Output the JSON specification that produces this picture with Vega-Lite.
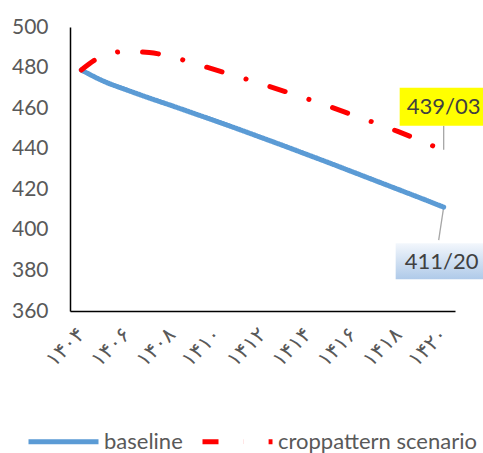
{
  "$schema": "https://vega.github.io/schema/vega-lite/v6.json",
  "autosize": {"type": "none"},
  "width": 385,
  "height": 284,
  "padding": {"left": 70, "top": 27, "right": 28, "bottom": 142},
  "background": "white",
  "config": {
    "view": {"stroke": null},
    "font": "Lato",
    "axis": {"grid": false, "ticks": false, "domainColor": "#000000", "domainWidth": 1.5, "labelColor": "#595959", "title": null}
  },
  "datasets": {
    "series": [
      {"year": "۱۴۰۴", "series": "baseline", "value": 478.8},
      {"year": "۱۴۰۵", "series": "baseline", "value": 473.2},
      {"year": "۱۴۰۶", "series": "baseline", "value": 469.0},
      {"year": "۱۴۰۷", "series": "baseline", "value": 465.0},
      {"year": "۱۴۰۸", "series": "baseline", "value": 461.2},
      {"year": "۱۴۰۹", "series": "baseline", "value": 457.3},
      {"year": "۱۴۱۰", "series": "baseline", "value": 453.4},
      {"year": "۱۴۱۱", "series": "baseline", "value": 449.4},
      {"year": "۱۴۱۲", "series": "baseline", "value": 445.3},
      {"year": "۱۴۱۳", "series": "baseline", "value": 441.2},
      {"year": "۱۴۱۴", "series": "baseline", "value": 437.0},
      {"year": "۱۴۱۵", "series": "baseline", "value": 432.8},
      {"year": "۱۴۱۶", "series": "baseline", "value": 428.5},
      {"year": "۱۴۱۷", "series": "baseline", "value": 424.2},
      {"year": "۱۴۱۸", "series": "baseline", "value": 419.9},
      {"year": "۱۴۱۹", "series": "baseline", "value": 415.6},
      {"year": "۱۴۲۰", "series": "baseline", "value": 411.2},
      {"year": "۱۴۰۴", "series": "croppattern scenario", "value": 478.8},
      {"year": "۱۴۰۵", "series": "croppattern scenario", "value": 486.0},
      {"year": "۱۴۰۶", "series": "croppattern scenario", "value": 488.0},
      {"year": "۱۴۰۷", "series": "croppattern scenario", "value": 487.4},
      {"year": "۱۴۰۸", "series": "croppattern scenario", "value": 485.3},
      {"year": "۱۴۰۹", "series": "croppattern scenario", "value": 482.0},
      {"year": "۱۴۱۰", "series": "croppattern scenario", "value": 478.6},
      {"year": "۱۴۱۱", "series": "croppattern scenario", "value": 475.3},
      {"year": "۱۴۱۲", "series": "croppattern scenario", "value": 471.8},
      {"year": "۱۴۱۳", "series": "croppattern scenario", "value": 468.2},
      {"year": "۱۴۱۴", "series": "croppattern scenario", "value": 464.5},
      {"year": "۱۴۱۵", "series": "croppattern scenario", "value": 460.6},
      {"year": "۱۴۱۶", "series": "croppattern scenario", "value": 456.6},
      {"year": "۱۴۱۷", "series": "croppattern scenario", "value": 452.6},
      {"year": "۱۴۱۸", "series": "croppattern scenario", "value": 448.4},
      {"year": "۱۴۱۹", "series": "croppattern scenario", "value": 443.9},
      {"year": "۱۴۲۰", "series": "croppattern scenario", "value": 439.03}
    ],
    "labels": [
      {"year": "۱۴۲۰", "series": "baseline", "value": 411.2, "text": "411/20"},
      {"year": "۱۴۲۰", "series": "croppattern scenario", "value": 439.03, "text": "439/03"}
    ]
  },
  "encoding": {
    "x": {
      "field": "year", "type": "ordinal",
      "scale": {"type": "point", "padding": 0.5, "domain": ["۱۴۰۴","۱۴۰۵","۱۴۰۶","۱۴۰۷","۱۴۰۸","۱۴۰۹","۱۴۱۰","۱۴۱۱","۱۴۱۲","۱۴۱۳","۱۴۱۴","۱۴۱۵","۱۴۱۶","۱۴۱۷","۱۴۱۸","۱۴۱۹","۱۴۲۰"]},
      "axis": {"values": ["۱۴۰۴","۱۴۰۶","۱۴۰۸","۱۴۱۰","۱۴۱۲","۱۴۱۴","۱۴۱۶","۱۴۱۸","۱۴۲۰"], "labelAngle": -45, "labelAlign": "right", "labelBaseline": "middle", "labelPadding": 20, "labelFont": "DejaVu Sans", "labelFontSize": 21}
    },
    "y": {
      "field": "value", "type": "quantitative",
      "scale": {"domain": [360, 500], "nice": false, "zero": false},
      "axis": {"values": [360, 380, 400, 420, 440, 460, 480, 500], "labelFontSize": 21, "labelPadding": 22}
    }
  },
  "layer": [
    {
      "data": {"name": "labels"},
      "transform": [{"filter": "datum.series === 'baseline'"}],
      "mark": {"type": "rule", "color": "#A6A6A6", "strokeWidth": 1.3, "yOffset": 0, "y2Offset": 33, "x2Offset": -5},
      "encoding": {"y2": {"field": "value"}, "x2": {"field": "year"}}
    },
    {
      "data": {"name": "labels"},
      "transform": [{"filter": "datum.series !== 'baseline'"}],
      "mark": {"type": "rule", "color": "#A6A6A6", "strokeWidth": 1.3, "yOffset": -1, "y2Offset": -25},
      "encoding": {"y2": {"field": "value"}}
    },
    {
      "data": {"name": "series"},
      "mark": {"type": "line", "strokeWidth": 5, "interpolate": "monotone", "strokeCap": "round"},
      "encoding": {
        "color": {
          "field": "series", "type": "nominal",
          "scale": {"domain": ["baseline", "croppattern scenario"], "range": ["#5B9BD5", "#FF0000"]},
          "legend": {"title": null, "orient": "none", "direction": "horizontal", "legendX": -44, "legendY": 377, "symbolSize": 4900, "symbolStrokeWidth": 5, "labelFontSize": 22, "labelLimit": 400, "labelColor": "#595959", "labelOffset": 3, "columnPadding": 9, "symbolType": "stroke"}
        },
        "strokeDash": {
          "field": "series", "type": "nominal",
          "scale": {"domain": ["baseline", "croppattern scenario"], "range": [[1, 0], [16, 25, 0.1, 25]]},
          "legend": {"title": null, "orient": "none", "direction": "horizontal", "legendX": -44, "legendY": 377, "symbolSize": 4900, "symbolStrokeWidth": 5, "labelFontSize": 22, "labelLimit": 400, "labelColor": "#595959", "labelOffset": 3, "columnPadding": 9, "symbolType": "stroke"}
        }
      }
    },
    {
      "data": {"name": "labels"},
      "transform": [{"filter": "datum.series !== 'baseline'"}],
      "mark": {"type": "rect", "width": 88, "height": 38, "fill": "#FFFF00", "yOffset": -44},
      "encoding": {}
    },
    {
      "data": {"name": "labels"},
      "transform": [{"filter": "datum.series === 'baseline'"}],
      "mark": {"type": "rect", "width": 90, "height": 36, "yOffset": 54, "xOffset": -3,
        "fill": {"gradient": "linear", "x1": 0, "y1": 0, "x2": 0, "y2": 1, "stops": [{"offset": 0, "color": "#F3F7FC"}, {"offset": 1, "color": "#AFCAE9"}]}},
      "encoding": {}
    },
    {
      "data": {"name": "labels"},
      "transform": [{"filter": "datum.series !== 'baseline'"}],
      "mark": {"type": "text", "fontSize": 22, "color": "#404040", "yOffset": -44, "baseline": "middle", "align": "center"},
      "encoding": {"text": {"field": "text"}}
    },
    {
      "data": {"name": "labels"},
      "transform": [{"filter": "datum.series === 'baseline'"}],
      "mark": {"type": "text", "fontSize": 22, "color": "#404040", "yOffset": 55, "xOffset": -2, "baseline": "middle", "align": "center"},
      "encoding": {"text": {"field": "text"}}
    }
  ]
}
